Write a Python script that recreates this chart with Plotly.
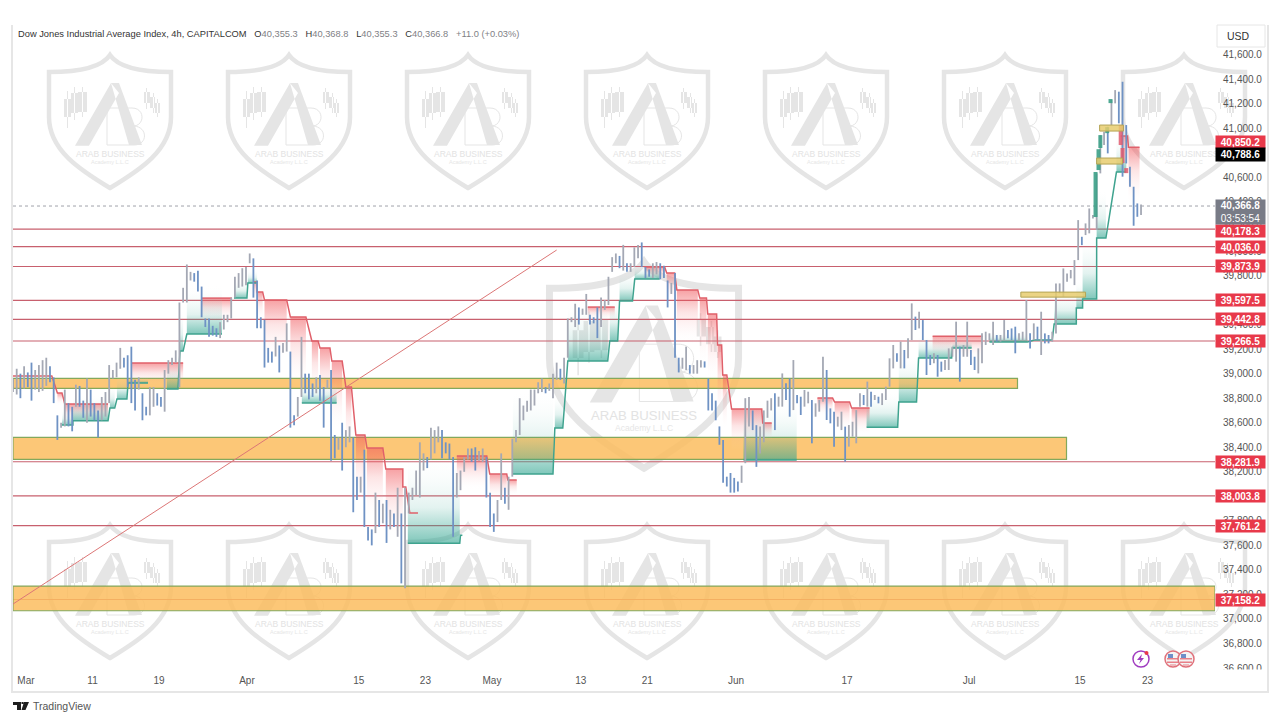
import plotly.graph_objects as go

# high / low of the sampled 4h candles, left to right (every second bar)
bar_high = [
    38960, 39040, 39000, 39060, 39010, 39090, 39030, 39070, 39110, 39130, 39060, 38970,
    38660, 38600, 38870, 38760, 38730, 38910, 38900, 38780, 38960,
    38870, 38760, 38700, 38810, 38850, 39070, 39030, 39090, 39210, 39130,
    39150, 39220, 38950, 38970, 38840, 38730, 38890, 38890, 38840, 38810,
    39030, 39110, 39130, 39190, 39580, 39700, 39890, 39830, 39820, 39840,
    39710, 39450, 39450, 39390, 39370, 39420, 39480, 39480, 39620, 39790,
    39820, 39860, 39870, 39980, 39940, 39760, 39460, 39440, 39210, 39180,
    39300, 39230, 39250, 39410, 39180, 38660, 38810, 39300, 39000, 39000,
    38920, 38970, 38990, 38890, 38950, 39030, 38500, 38480, 38600, 38540,
    38570, 38480, 38160, 38160, 38380, 37750, 37730, 38030, 37970, 37940,
    37970, 37890, 37860, 38070, 37860, 38070, 38030, 38070, 38210, 38440,
    38350, 38320, 38560, 38540, 38570, 38540, 38440, 38430, 38320, 38190,
    38210, 38320, 38390, 38390, 38400, 38370, 38390, 38320, 38030, 37860,
    37970, 38350, 38070, 38160, 38470, 38540, 38800, 38740, 38780, 38870,
    38870, 38930, 38960, 38890, 38920, 39000, 39090, 39040, 39130, 39450,
    39460, 39570, 39540, 39530, 39650, 39480, 39460, 39540, 39620, 39600,
    39790, 39950, 39980, 39960, 40050, 39900, 39900, 40030, 40050, 40070,
    39870, 39850, 39900, 39910, 39900, 39880, 39760, 39740, 39820, 39130,
    39130, 39220, 39070, 39070, 39110, 39110, 39100, 38960, 38840, 38780,
    38570, 38460, 38160, 38190, 38150, 38120, 38250, 38800, 38810, 38700,
    38580, 38570, 38700, 38780, 38800, 38840,
    38812, 39002, 38921, 38962, 39111, 38826, 38812, 38867, 38853, 38785,
    38758, 38785, 39138, 39030, 38717, 38690, 38649, 38690, 38568, 38581,
    38608, 38703, 38840, 38826, 38935, 38853, 38826, 38812, 38840, 38894,
    39125, 39234, 39166, 39261, 39193, 39288, 39573, 39465, 39505, 39437,
    39274, 39152, 39166, 39152, 39098, 39111, 39206, 39220, 39424, 39220,
    39234, 39424, 39193, 39138, 39206, 39329, 39342, 39329, 39424, 39315,
    39315, 39437, 39356, 39369, 39383, 39329, 39342, 39600, 39329, 39410,
    39383, 39505, 39328, 39315, 39342, 39736, 39736, 39858, 39817, 39845,
    39926, 40252, 40116, 40225, 40347, 40293, 40633, 40945, 40973, 41013,
    41231, 41312, 41299, 41380, 41027, 40687, 40524, 40388, 40380,
]
bar_low = [
    38850, 38830, 38800, 38880, 38890, 38780, 38870, 38850, 38860, 38900, 38930, 38760,
    38460, 38560, 38570, 38570, 38530, 38730, 38730, 38640, 38600,
    38650, 38620, 38480, 38620, 38650, 38760, 38960, 38970, 39040, 39050,
    38890, 38760, 38700, 38870, 38620, 38660, 38660, 38730, 38740, 38730,
    38690, 39000, 39070, 39090, 38890, 39580, 39580, 39760, 39750, 39670,
    39460, 39380, 39300, 39310, 39300, 39290, 39360, 39420, 39450, 39620,
    39700, 39710, 39720, 39900, 39620, 39370, 39370, 39050, 39090, 39090,
    39140, 39010, 39170, 39180, 38560, 38580, 38650, 38810, 38840, 38790,
    38810, 38840, 38780, 38560, 38880, 38290, 38310, 38380, 38210, 38400,
    38440, 37870, 37970, 38030, 37750, 37640, 37600, 37700, 37750, 37780,
    37620, 37730, 37750, 37670, 37290, 37250, 37860, 37970, 38010, 37990,
    38210, 38230, 38300, 38350, 38440, 38310, 38350, 38300, 37670, 37990,
    38050, 38200, 38300, 38280, 38210, 38290, 38280, 37990, 37750, 37710,
    37790, 37970, 37940, 37890, 38160, 38440, 38500, 38620, 38690, 38700,
    38740, 38840, 38850, 38840, 38860, 38800, 38950, 38950, 38920, 39130,
    39420, 39380, 39400, 39480, 39480, 39400, 39410, 39290, 39380, 39520,
    39560, 39830, 39900, 39860, 39840, 39830, 39830, 39870, 39940, 39870,
    39780, 39790, 39780, 39810, 39770, 39780, 39540, 39650, 39130, 39010,
    39040, 39030, 39000, 39000, 39000, 39050, 39050, 38700, 38700, 38620,
    38420, 38110, 38080, 38030, 38030, 38040, 38110, 38270, 38570, 38540,
    38240, 38350, 38440, 38640, 38700, 38540,
    38731, 38731, 38785, 38649, 38703, 38758, 38663, 38731, 38758, 38432,
    38649, 38690, 38771, 38622, 38595, 38405, 38568, 38540, 38282, 38405,
    38486, 38432, 38731, 38744, 38731, 38731, 38785, 38758, 38744, 38785,
    38894, 39043, 39098, 39043, 39043, 39125, 39274, 39356, 39369, 39274,
    38989, 39070, 39084, 38975, 39016, 39030, 39030, 39138, 39098, 38935,
    39138, 39138, 39070, 39030, 39002, 39084, 39234, 39274, 39234, 39261,
    39261, 39274, 39288, 39274, 39166, 39274, 39274, 39274, 39206, 39274,
    39274, 39152, 39247, 39247, 39260, 39328, 39654, 39627, 39750, 39777,
    39722, 39926, 40048, 40130, 40144, 40266, 40171, 40633, 40864, 40796,
    41027, 41204, 41041, 40606, 40714, 40524, 40206, 40279, 40293,
]
bar_step = 2

# supply steps: bar where each step starts / ends, its level and where its fill fades out
red_start = [0, 24, 28, 64.3, 102, 130.3, 132, 136, 150, 161.6, 166, 172.4, 180, 185.4, 191.4, 201.6,
             210.8, 214.6, 240, 257.8, 267.6, 310.8, 341.6, 353.5, 359, 371.4, 375.7, 381, 383.8,
             388.6, 405.4, 435, 444.3, 453.5, 497.3, 599, 603.2]
red_end = [21, 26.5, 51.4, 92, 118.4, 132, 135, 148, 158.4, 165, 171.4, 178, 183, 190.3, 200, 210.8,
           212.4, 219, 256.2, 267, 272.4, 325.4, 352.4, 357.8, 370.3, 375, 380.5, 383.2, 386,
           404.9, 410.3, 443.2, 452.4, 463.2, 524.3, 602.7, 609.2]
red_level = [38980, 38842, 38752, 39086, 39616, 39747, 39665, 39600, 39461, 39266, 39209, 39103, 38891,
             38499, 38393, 38222, 38075, 37863, 38328, 38181, 38132, 39543, 39869, 39820, 39682, 39616,
             39486, 39233, 38989, 38711, 38597, 38801, 38768, 38719, 39306, 40937, 40847]
red_fade = [38980, 38744, 38581, 38891, 39420, 39600, 39437, 39111, 38907, 38826, 38744, 38540, 38377,
            37969, 37806, 37643, 38075, 37863, 38051, 37969, 38010, 39437, 39763, 39600, 39233, 39070,
            38948, 38622, 38540, 38377, 38459, 38662, 38540, 38499, 39127, 40578, 40375]

# demand steps, same layout, fill fades upwards
green_start = [26.5, 32.4, 52.4, 56.2, 62.2, 83.2, 90.3, 94, 119.5, 127, 156.2, 213.5, 242, 270.3, 293,
               300, 322.7, 328, 336.2, 395, 461.6, 479, 489.7, 508, 528, 552.4, 563, 575, 578.4, 586, 596.7]
green_end = [32.4, 51.4, 55, 61.6, 73, 89.2, 92, 113, 126.5, 132, 175, 241.6, 243, 292, 297.3,
             321.6, 327, 335, 349.7, 423.8, 478.4, 488.6, 507.6, 518.4, 548.6, 562, 575, 578.4, 586, 591, 602]
green_level = [38581, 38616, 38719, 38793, 38923, 38874, 39184, 39323, 39616, 39739, 38760, 37618, 37683,
               38181, 38556, 39103, 39266, 39592, 39771, 38296, 38564, 38768, 39127, 39209, 39258, 39274,
               39404, 39535, 39608, 40106, 40644]
green_fade = [38703, 38826, 38907, 38989, 38964, 39111, 39518, 39722, 39763, 39845, 38932, 38336, 37683,
              38866, 38826, 39560, 39641, 39845, 39886, 38785, 38850, 39152, 39315, 39274, 39339, 39274,
              39682, 39763, 40130, 40497, 40945]

# thick candles at the top of the July rally
teal_x = [585.4, 587, 588, 591.7, 593.5]
teal_low = [40277, 40660, 40840, 40961, 41206]
teal_high = [40644, 40830, 40945, 41010, 41239]
rose_x = [599, 600, 602]
rose_low = [40864, 40717, 40635]
rose_high = [41027, 40840, 40676]

# horizontal levels with their price tags
levels = [40178.3, 40036.0, 39873.9, 39597.5, 39442.8, 39266.5, 38281.9, 38003.8, 37761.2, 37158.2]
level_shift = [-2, 0, 0, 0, 0, 0, 0, 0, 0, 0]

# orange zones: low, high, last bar
zone_low = [38880, 38301, 37067]
zone_high = [38961, 38480, 37268]
zone_end = [543.2, 569.7, 650]

# yellow boxes: first bar, last bar, low, high
box_start = [587.6, 586, 545]
box_end = [600.5, 600, 580]
box_low = [40978, 40709, 39624]
box_high = [41027, 40758, 39665]

trend_x = [0, 294]
trend_y = [37122, 40008]

tick_pos = [7, 43, 79, 126.5, 187, 223, 259, 307, 343, 391, 451, 517, 577, 613.5]
tick_text = ["Mar", "11", "19", "Apr", "15", "23", "May", "13", "21", "Jun", "17", "Jul", "15", "23"]
price_ticks = [36600, 36800, 37000, 37200, 37400, 37600, 37800, 38000, 38200, 38400, 38600, 38800, 39000,
               39200, 39400, 39600, 39800, 40000, 40200, 40400, 40600, 40800, 41000, 41200, 41400, 41600]

last_price = 40366.8
bid_price = 40850.2
ask_price = 40788.6
title_name = "Dow Jones Industrial Average Index, 4h, CAPITALCOM"
ohlc_text = [("O", "40,355.3"), ("H", "40,368.8"), ("L", "40,355.3"), ("C", "40,366.8")]
change_text = "+11.0 (+0.03%)"

# page layout
PLOT_L, PLOT_R, PLOT_T, PLOT_B = 13, 1215, 20, 669
GREY_MARK = "#e5e5e5"
TAG_RED = "#e8394a"
TEXT_FONT = "Liberation Sans"
CLEAR = "rgba(255,255,255,0)"
RED_SCALE = [[0, CLEAR], [0.6, "rgba(240,85,90,0.16)"], [1, "rgba(240,85,90,0.55)"]]
GREEN_SCALE = [[0, CLEAR], [0.6, "rgba(50,165,145,0.14)"], [1, "rgba(50,165,145,0.62)"]]


def px(x):
    return (x - PLOT_L) / (PLOT_R - PLOT_L)


def py(y):
    return (PLOT_B - y) / (PLOT_B - PLOT_T)


def path(segs, cx=0, top=0, s=1):
    out = ""
    for seg in segs:
        out += seg[0]
        pts = seg[1:]
        for i in range(0, len(pts), 2):
            out += " %.5f %.5f " % (px(cx + pts[i] * s), py(top + pts[i + 1] * s))
    return out


def polygon(points):
    segs = [("M", points[0][0], points[0][1])]
    for p in points[1:]:
        segs.append(("L", p[0], p[1]))
    segs.append(("Z",))
    return segs


def rect(x0, y0, x1, y1):
    return polygon([(x0, y0), (x1, y0), (x1, y1), (x0, y1)])


shield = [("M", -61, 17), ("C", -30, 17, -8, 12, 0, 0), ("C", 8, 12, 30, 17, 61, 17), ("L", 61, 62),
          ("C", 61, 95, 30, 115, 0, 133), ("C", -30, 115, -61, 95, -61, 62), ("Z",)]
b_letter = [("M", -3, 53), ("L", 22, 53), ("C", 35, 53, 35, 70, 24, 71), ("C", 38, 72, 38, 90, 24, 90),
            ("L", -3, 90), ("Z",)]
solid_parts = (
    polygon([(1, 28), (9, 38), (-21, 90.7), (-35, 90.7)])
    + polygon([(1, 28), (9, 28), (32, 90), (19, 90)])
    + rect(-46, 44, -39, 62) + rect(-43, 36, -42, 73)
    + rect(-39, 38, -32, 58) + rect(-36, 32, -35, 65)
    + rect(-32, 37, -23, 57) + rect(-28, 32, -27, 62)
    + rect(34, 37, 40, 48) + rect(36, 33, 37, 54)
    + rect(40, 42, 45, 53) + rect(43, 38, 44, 58)
    + rect(45, 48, 50, 58) + rect(47, 44, 48, 62)
)

shapes = []
annotations = []


def add_logo(cx, top, s):
    shapes.append(dict(type="path", xref="paper", yref="paper", path=path(shield, cx, top, s),
                       line=dict(color=GREY_MARK, width=4.5 * s), layer="below"))
    shapes.append(dict(type="path", xref="paper", yref="paper", path=path(solid_parts, cx, top, s),
                       fillcolor=GREY_MARK, line=dict(width=0), layer="below"))
    shapes.append(dict(type="path", xref="paper", yref="paper", path=path(b_letter, cx, top, s),
                       line=dict(color=GREY_MARK, width=1), layer="below"))
    annotations.append(dict(xref="paper", yref="paper", x=px(cx), y=py(top + 99 * s), text="ARAB BUSINESS",
                            showarrow=False, font=dict(family=TEXT_FONT, size=8.5 * s, color="#e3e3e3"),
                            xanchor="center", yanchor="middle"))
    annotations.append(dict(xref="paper", yref="paper", x=px(cx), y=py(top + 107 * s), text="Academy L.L.C",
                            showarrow=False, font=dict(family=TEXT_FONT, size=5.5 * s, color="#e6e6e6"),
                            xanchor="center", yanchor="middle"))


for top in [55, 525]:
    for i in range(7):
        add_logo(110 + 179 * i, top, 1)
add_logo(644, 262, 1.55)

fig = go.Figure()

# fading fills, one per step so each starts strong at its own level
def add_fill(x0, x1, level, fade, scale):
    if level == fade:
        return
    fig.add_trace(go.Scatter(
        x=[x0, x1, x1, x0, x0], y=[fade, fade, level, level, fade], mode="lines", fill="toself",
        line=dict(width=0), hoverinfo="skip", showlegend=False,
        fillgradient=dict(type="vertical", colorscale=scale, start=fade, stop=level)))


def add_steps(starts, ends, values, color):
    xs, ys = [], []
    for i in range(len(starts)):
        xs += [starts[i], ends[i]]
        ys += [values[i], values[i]]
        if i + 1 < len(starts) and starts[i + 1] - ends[i] > 6:
            xs.append(None)
            ys.append(None)
    fig.add_trace(go.Scatter(x=xs, y=ys, mode="lines", line=dict(color=color, width=1.5),
                             hoverinfo="skip", showlegend=False))


for i in range(len(red_start)):
    add_fill(red_start[i], red_end[i], red_level[i], red_fade[i], RED_SCALE)
for i in range(len(green_start)):
    add_fill(green_start[i], green_end[i], green_level[i], green_fade[i], GREEN_SCALE)
add_steps(red_start, red_end, red_level, "#e0606a")
add_steps(green_start, green_end, green_level, "#3fa38f")

# candles as plain high-low sticks, blue when the bar sits lower than the previous one
grey_x, grey_y, blue_x, blue_y = [], [], [], []
prev_mid = None
for i, (hi, lo) in enumerate(zip(bar_high, bar_low)):
    mid = (hi + lo) / 2
    if prev_mid is not None and mid < prev_mid:
        blue_x += [i * bar_step, i * bar_step, None]
        blue_y += [lo, hi, None]
    else:
        grey_x += [i * bar_step, i * bar_step, None]
        grey_y += [lo, hi, None]
    prev_mid = mid
fig.add_trace(go.Scatter(x=grey_x, y=grey_y, mode="lines", line=dict(color="#a4a8b4", width=1.8),
                         hoverinfo="skip", showlegend=False))
fig.add_trace(go.Scatter(x=blue_x, y=blue_y, mode="lines", line=dict(color="#6f92c4", width=1.8),
                         hoverinfo="skip", showlegend=False))


def add_thick(xs, lows, highs, color):
    x, y = [], []
    for i in range(len(xs)):
        x += [xs[i], xs[i], None]
        y += [lows[i], highs[i], None]
    fig.add_trace(go.Scatter(x=x, y=y, mode="lines", line=dict(color=color, width=4),
                             hoverinfo="skip", showlegend=False))


add_thick(teal_x, teal_low, teal_high, "rgba(60,160,135,0.9)")
add_thick(rose_x, rose_low, rose_high, "rgba(225,90,110,0.85)")

fig.add_trace(go.Scatter(x=trend_x, y=trend_y, mode="lines", line=dict(color="#dc7676", width=1),
                         hoverinfo="skip", showlegend=False))

# orange zones
for i in range(len(zone_low)):
    shapes.append(dict(type="rect", xref="x", yref="y", x0=0, x1=zone_end[i], y0=zone_low[i], y1=zone_high[i],
                       fillcolor="rgba(251,189,95,0.85)", line=dict(color="#83a85c", width=1.2), layer="below"))

# level lines and tags
for i, level in enumerate(levels):
    shapes.append(dict(type="line", xref="paper", yref="y", x0=0, x1=1, y0=level, y1=level,
                       line=dict(color="#c8606e", width=1.1), layer="below"))
    annotations.append(dict(xref="paper", yref="y", x=1, y=level, yshift=level_shift[i],
                            text="<b>%s</b>" % format(level, ",.1f"), showarrow=False,
                            xanchor="left", yanchor="middle", width=49, height=12, align="center",
                            bgcolor=TAG_RED, borderpad=0, font=dict(family=TEXT_FONT, size=10, color="white")))
annotations.append(dict(xref="paper", yref="y", x=1, y=bid_price, yshift=5,
                        text="<b>%s</b>" % format(bid_price, ",.1f"), showarrow=False, xanchor="left",
                        yanchor="middle", width=49, height=12, align="center", bgcolor=TAG_RED, borderpad=0,
                        font=dict(family=TEXT_FONT, size=10, color="white")))
annotations.append(dict(xref="paper", yref="y", x=1, y=ask_price, text="<b>%s</b>" % format(ask_price, ",.1f"),
                        showarrow=False, xanchor="left", yanchor="middle", width=49, height=13, align="center",
                        bgcolor="#000000", borderpad=0, font=dict(family=TEXT_FONT, size=10, color="white")))
annotations.append(dict(xref="paper", yref="y", x=1, y=last_price, yshift=7,
                        text="<b>%s</b><br>03:53:54" % format(last_price, ",.1f"), showarrow=False,
                        xanchor="left", yanchor="top", width=49, height=24, align="center",
                        bgcolor="#787b86", borderpad=0, font=dict(family=TEXT_FONT, size=10, color="white")))

# last price dotted line
shapes.append(dict(type="line", xref="paper", yref="y", x0=0, x1=1, y0=last_price, y1=last_price,
                   line=dict(color="#a0a3ab", width=1, dash="dot"), layer="below"))

# yellow boxes sit on top of the candles
for i in range(len(box_start)):
    shapes.append(dict(type="rect", xref="x", yref="y", x0=box_start[i], x1=box_end[i], y0=box_low[i], y1=box_high[i],
                       fillcolor="rgba(232,205,110,0.85)", line=dict(color="#b4a456", width=1), layer="above"))

# chart frame and USD button
frame_line = dict(color="#e6e6e6", width=2)
shapes.append(dict(type="path", xref="paper", yref="paper", layer="below", line=frame_line,
                   path=path([("M", 12, 25), ("L", 12, 692), ("L", 1268, 692), ("L", 1268, 25)])))
shapes.append(dict(type="rect", xref="paper", yref="paper", x0=px(1217), x1=px(1265), y0=py(25), y1=py(47),
                   line=dict(color="#e6e6e6", width=1), layer="below"))
annotations.append(dict(xref="paper", yref="paper", x=px(1225), y=py(36), text="USD", showarrow=False,
                        xanchor="left", yanchor="middle", font=dict(family=TEXT_FONT, size=10.5, color="#333333")))
# the lowest price label is cut by the pane edge
shapes.append(dict(type="rect", xref="paper", yref="paper", x0=px(1216), x1=px(1266), y0=py(669.5), y1=py(688),
                   fillcolor="white", line=dict(width=0), layer="above"))

# icons in the bottom right corner
shapes.append(dict(type="circle", xref="paper", yref="paper", x0=px(1133), x1=px(1149), y0=py(651), y1=py(667),
                   line=dict(color="#a03cc0", width=1.5), layer="above"))
shapes.append(dict(type="path", xref="paper", yref="paper", layer="above", fillcolor="#a03cc0", line=dict(width=0),
                   path=path(polygon([(1142, 654), (1137, 660), (1140.5, 660), (1139, 664), (1144, 658), (1141, 658)]))))
shapes.append(dict(type="circle", xref="paper", yref="paper", x0=px(1144.5), x1=px(1148.5), y0=py(651), y1=py(655),
                   fillcolor="#e8394a", line=dict(width=0), layer="above"))
for cx in [1173, 1186]:
    shapes.append(dict(type="circle", xref="paper", yref="paper", x0=px(cx - 8), x1=px(cx + 8), y0=py(651), y1=py(667),
                       fillcolor="#f4f4f4", line=dict(color="#e0707a", width=1.5), layer="above"))
    shapes.append(dict(type="path", xref="paper", yref="paper", layer="above", fillcolor="#e88088", line=dict(width=0),
                       path=path(rect(cx - 6, 658, cx + 6, 659.5) + rect(cx - 6, 661.5, cx + 6, 663) + rect(cx - 3, 664.5, cx + 3, 665.5))))
    shapes.append(dict(type="path", xref="paper", yref="paper", layer="above", fillcolor="#6f8fc8", line=dict(width=0),
                       path=path(rect(cx - 5, 654, cx, 658))))

# TradingView mark
shapes.append(dict(type="path", xref="paper", yref="paper", layer="above", fillcolor="#1e1e1e", line=dict(width=0),
                   path=path(polygon([(13, 702), (21, 702), (21, 710), (17, 710), (17, 705), (13, 705)])
                             + polygon([(24, 702), (29, 702), (25.5, 710), (21.5, 710)])
                             + rect(21.5, 702, 23.5, 704))))
annotations.append(dict(xref="paper", yref="paper", x=px(31), y=py(705.5), text="TradingView", showarrow=False,
                        xanchor="left", yanchor="middle", font=dict(family=TEXT_FONT, size=10.5, color="#555555")))

# legend line at the top
gap = "&nbsp;&nbsp;&nbsp;"
legend = '<span style="color:#333333">%s</span>%s' % (title_name, gap)
for letter, value in ohlc_text:
    legend += '<span style="color:#333333">%s</span><span style="color:#7f7f86">%s</span>%s' % (letter, value, gap)
legend += '<span style="color:#7f7f86">%s</span>' % change_text
annotations.append(dict(xref="paper", yref="paper", x=px(16), y=py(33.5), text=legend, showarrow=False,
                        xanchor="left", yanchor="middle", font=dict(family=TEXT_FONT, size=9.3)))

fig.update_layout(
    width=1280, height=720, margin=dict(l=PLOT_L, r=1280 - PLOT_R, t=PLOT_T, b=720 - PLOT_B),
    paper_bgcolor="white", plot_bgcolor="rgba(0,0,0,0)", showlegend=False,
    shapes=shapes, annotations=annotations,
    xaxis=dict(range=[0, 650], showgrid=False, zeroline=False, showline=False, tickmode="array",
               tickvals=tick_pos, ticktext=tick_text, ticks="outside", ticklen=2, tickcolor="rgba(0,0,0,0)",
               tickfont=dict(family=TEXT_FONT, size=10, color="#555555")),
    yaxis=dict(range=[36592, 41883.5], side="right", showgrid=False, zeroline=False, showline=False,
               tickmode="array", tickvals=price_ticks, tickformat=",.1f", ticks="outside", ticklen=5,
               tickcolor="rgba(0,0,0,0)", tickfont=dict(family=TEXT_FONT, size=10, color="#555555")),
)

fig.write_html("out.html", config={"displayModeBar": False},
               post_script="document.body.style.margin='0';document.body.style.overflow='hidden';")
